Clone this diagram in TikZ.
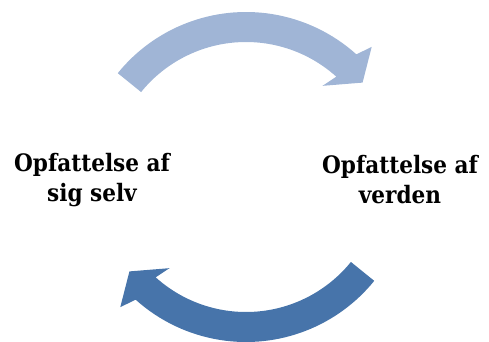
\documentclass[tikz,border=0pt]{standalone}
\usepackage{fontspec}
\setmainfont{DejaVu Serif Condensed}
\definecolor{lightarrow}{HTML}{A0B5D6}
\definecolor{darkarrow}{HTML}{4774AA}
\tikzset{
  label text/.style={font=\bfseries\fontsize{24}{30}\selectfont, align=center, text=black, inner sep=0pt},
  arrowbody/.style={draw=none}
}
\begin{document}
\begin{tikzpicture}[x=1pt,y=1pt]
\useasboundingbox (0,0) rectangle (489,341);
\coordinate (C) at (246,164);
% top arrow
\fill[lightarrow] ([shift={(141:165)}]C) arc[start angle=141, end angle=48, radius=165]
  -- ([shift={(46:181)}]C) -- ([shift={(39:150)}]C) -- ([shift={(50:119)}]C)
  -- ([shift={(48:135)}]C) arc[start angle=48, end angle=141, radius=135] -- cycle;
% bottom arrow
\fill[darkarrow] ([shift={(321:165)}]C) arc[start angle=321, end angle=228, radius=165]
  -- ([shift={(226:181)}]C) -- ([shift={(219:150)}]C) -- ([shift={(230:119)}]C)
  -- ([shift={(228:135)}]C) arc[start angle=228, end angle=321, radius=135] -- cycle;
\node[label text] (self) at (92,161) {Opfattelse af\\sig selv};
\node[label text] (world) at (400,161) {Opfattelse af\\verden};
\end{tikzpicture}
\end{document}
